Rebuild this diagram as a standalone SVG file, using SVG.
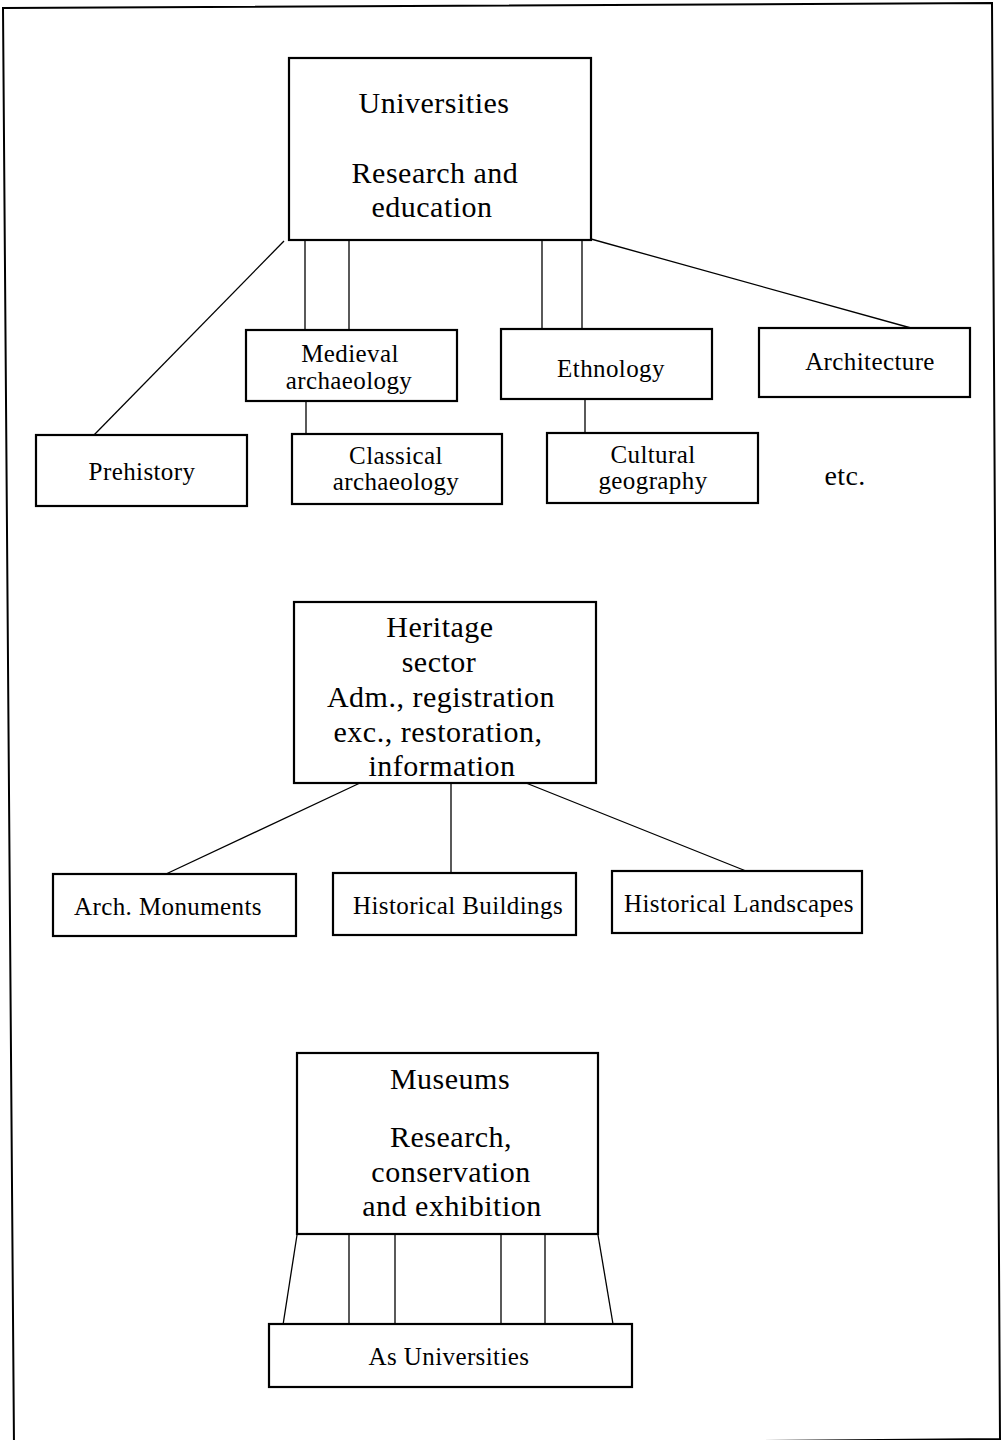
<svg xmlns="http://www.w3.org/2000/svg" width="1002" height="1440" viewBox="0 0 1002 1440">
  <style>
    .box { fill: #ffffff; stroke: #000000; stroke-width: 2.2; }
    .link { fill: none; stroke: #000000; stroke-width: 1.3; }
    .frame { fill: none; stroke: #000000; stroke-width: 2; }
    text { font-family: "Liberation Serif", "Times New Roman", serif; fill: #000000; text-anchor: middle; }
    .big { font-size: 30px; letter-spacing: 0.5px; }
    .small { font-size: 25px; letter-spacing: 0.4px; }
  </style>

  <rect width="1002" height="1440" fill="#ffffff"/>

  <!-- page frame, slightly skewed -->
  <polygon class="frame" points="3,8 992,3 1000,1439 14,1447"/>

  <!-- connectors -->
  <g id="connectors">
    <!-- Universities -->
    <line class="link" x1="284" y1="241" x2="94" y2="435"/>
    <line class="link" x1="305" y1="240" x2="305" y2="330"/>
    <line class="link" x1="349" y1="240" x2="349" y2="330"/>
    <line class="link" x1="542" y1="240" x2="542" y2="329"/>
    <line class="link" x1="582" y1="240" x2="582" y2="329"/>
    <line class="link" x1="591" y1="239" x2="911" y2="328"/>
    <line class="link" x1="306" y1="401" x2="306" y2="434"/>
    <line class="link" x1="585" y1="399" x2="585" y2="433"/>
    <!-- Heritage sector -->
    <line class="link" x1="360" y1="783" x2="166" y2="874"/>
    <line class="link" x1="451" y1="783" x2="451" y2="873"/>
    <line class="link" x1="526" y1="783" x2="746" y2="871"/>
    <!-- Museums -->
    <line class="link" x1="297" y1="1235" x2="283" y2="1325"/>
    <line class="link" x1="349" y1="1235" x2="349" y2="1325"/>
    <line class="link" x1="395" y1="1235" x2="395" y2="1325"/>
    <line class="link" x1="501" y1="1235" x2="501" y2="1324"/>
    <line class="link" x1="545" y1="1235" x2="545" y2="1324"/>
    <line class="link" x1="598" y1="1235" x2="613" y2="1324"/>
  </g>

  <!-- Universities branch -->
  <g id="universities">
    <rect class="box" x="289" y="58" width="302" height="182"/>
    <text class="big" x="434" y="113">Universities</text>
    <text class="big" x="435" y="183">Research and</text>
    <text class="big" x="432" y="217">education</text>
  </g>
  <g id="medieval">
    <rect class="box" x="246" y="330" width="211" height="71"/>
    <text class="small" x="350" y="362">Medieval</text>
    <text class="small" x="349" y="389">archaeology</text>
  </g>
  <g id="ethnology">
    <rect class="box" x="501" y="329" width="211" height="70"/>
    <text class="small" x="611" y="377">Ethnology</text>
  </g>
  <g id="architecture">
    <rect class="box" x="759" y="328" width="211" height="69"/>
    <text class="small" x="870" y="370">Architecture</text>
  </g>
  <g id="prehistory">
    <rect class="box" x="36" y="435" width="211" height="71"/>
    <text class="small" x="142" y="480">Prehistory</text>
  </g>
  <g id="classical">
    <rect class="box" x="292" y="434" width="210" height="70"/>
    <text class="small" x="396" y="464">Classical</text>
    <text class="small" x="396" y="490">archaeology</text>
  </g>
  <g id="cultural-geography">
    <rect class="box" x="547" y="433" width="211" height="70"/>
    <text class="small" x="653" y="463">Cultural</text>
    <text class="small" x="653" y="489">geography</text>
  </g>
  <g id="etc">
    <text class="small" x="845" y="485" style="font-size:28px">etc.</text>
  </g>

  <!-- Heritage sector branch -->
  <g id="heritage">
    <rect class="box" x="294" y="602" width="302" height="181"/>
    <text class="big" x="440" y="637">Heritage</text>
    <text class="big" x="439" y="672">sector</text>
    <text class="big" x="441" y="707">Adm., registration</text>
    <text class="big" x="438" y="742">exc., restoration,</text>
    <text class="big" x="442" y="776">information</text>
  </g>
  <g id="arch-monuments">
    <rect class="box" x="53" y="874" width="243" height="62"/>
    <text class="small" x="168" y="915">Arch. Monuments</text>
  </g>
  <g id="historical-buildings">
    <rect class="box" x="333" y="873" width="243" height="62"/>
    <text class="small" x="458" y="914">Historical Buildings</text>
  </g>
  <g id="historical-landscapes">
    <rect class="box" x="612" y="871" width="250" height="62"/>
    <text class="small" x="739" y="912">Historical Landscapes</text>
  </g>

  <!-- Museums branch -->
  <g id="museums">
    <rect class="box" x="297" y="1053" width="301" height="181"/>
    <text class="big" x="450" y="1089">Museums</text>
    <text class="big" x="451" y="1147">Research,</text>
    <text class="big" x="451" y="1182">conservation</text>
    <text class="big" x="452" y="1216">and exhibition</text>
  </g>
  <g id="as-universities">
    <rect class="box" x="269" y="1324" width="363" height="63"/>
    <text class="small" x="449" y="1365">As Universities</text>
  </g>
</svg>
